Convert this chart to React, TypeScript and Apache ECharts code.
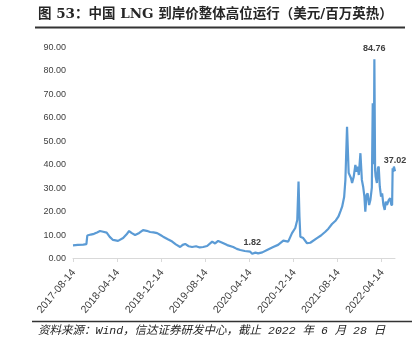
import React, { useEffect, useRef } from "react";
import * as echarts from "echarts";

const titleText = "图 53：中国 LNG 到岸价整体高位运行（美元/百万英热）";
const footerText = "资料来源：Wind，信达证券研发中心，截止 2022 年 6 月 28 日";

const tickLabels = [
  "2017-08-14", "2018-04-14", "2018-12-14", "2019-08-14",
  "2020-04-14", "2020-12-14", "2021-08-14", "2022-04-14",
];
const startDate = "2017-08-14";
const endDate = "2022-06-28";

const dates = [
  "2017-08-14", "2017-09-10", "2017-10-10", "2017-10-27", "2017-11-01", "2017-11-20", "2017-12-08", "2017-12-25",
  "2018-01-10", "2018-01-28", "2018-02-16", "2018-03-05", "2018-03-23", "2018-04-20", "2018-05-18", "2018-06-05",
  "2018-06-20", "2018-07-05", "2018-07-23", "2018-08-15", "2018-09-05", "2018-09-25", "2018-10-14", "2018-11-02",
  "2018-11-22", "2018-12-10", "2018-12-25", "2019-01-20", "2019-02-13", "2019-03-05", "2019-03-29", "2019-04-12",
  "2019-04-26", "2019-05-15", "2019-06-03", "2019-06-25", "2019-07-15", "2019-08-03", "2019-08-25", "2019-09-22",
  "2019-10-08", "2019-10-25", "2019-11-20", "2019-12-14", "2020-01-16", "2020-02-05", "2020-02-24", "2020-03-20",
  "2020-04-19", "2020-04-30", "2020-05-18", "2020-06-02", "2020-06-25", "2020-07-21", "2020-08-24", "2020-09-20",
  "2020-10-19", "2020-11-15", "2020-12-06", "2020-12-24", "2021-01-04", "2021-01-11", "2021-01-16", "2021-01-21",
  "2021-02-06", "2021-02-27", "2021-03-17", "2021-04-23", "2021-05-15", "2021-06-08", "2021-06-25", "2021-07-15",
  "2021-08-05", "2021-08-19", "2021-08-31", "2021-09-09", "2021-09-20", "2021-09-27", "2021-10-06", "2021-10-15",
  "2021-10-28", "2021-11-03", "2021-11-12", "2021-11-21", "2021-11-28", "2021-12-04", "2021-12-10", "2021-12-19",
  "2021-12-27", "2022-01-03", "2022-01-10", "2022-01-15", "2022-01-22", "2022-01-28", "2022-02-05", "2022-02-12",
  "2022-02-20", "2022-02-25", "2022-03-03", "2022-03-06", "2022-03-10", "2022-03-13", "2022-03-20", "2022-03-25",
  "2022-03-30", "2022-04-05", "2022-04-12", "2022-04-18", "2022-04-25", "2022-05-02", "2022-05-08", "2022-05-15",
  "2022-05-24", "2022-06-01", "2022-06-08", "2022-06-12", "2022-06-15", "2022-06-18", "2022-06-22", "2022-06-28",
];
const prices = [
  5.4, 5.6, 5.7, 5.9, 9.6, 10.0, 10.3, 10.9,
  11.5, 11.2, 10.8, 9.0, 7.7, 7.3, 8.5, 10.0,
  11.5, 10.6, 9.8, 10.7, 11.9, 11.6, 11.1, 10.9,
  10.6, 9.8, 9.1, 8.0, 7.0, 5.8, 4.7, 5.6,
  6.0, 5.0, 4.7, 5.0, 4.5, 4.7, 5.1, 7.0,
  6.2, 7.3, 6.4, 5.5, 4.7, 3.9, 3.4, 3.0,
  2.7, 1.82, 2.3, 2.0, 2.4, 3.4, 4.7, 5.6,
  7.4, 7.0, 10.6, 12.8, 16.2, 32.6, 18.0, 9.1,
  8.5, 6.3, 6.5, 8.5, 9.6, 11.2, 12.5, 14.5,
  16.0, 17.6, 20.0, 21.9, 26.0, 33.3, 56.0, 36.3,
  34.0, 32.0, 34.7, 39.7, 36.8, 39.0, 35.4, 44.7,
  33.3, 30.4, 26.2, 19.8, 26.9, 27.6, 22.6, 24.7,
  30.0, 66.0, 40.0, 84.76, 37.5, 34.7, 32.0, 38.3,
  39.0, 30.4, 26.2, 27.6, 22.6, 20.5, 24.0, 22.6,
  24.7, 25.5, 22.6, 22.6, 38.3, 36.8, 39.0, 37.02,
];

const DAY = 86400000;
const toDay = (s: string) => {
  const [y, m, d] = s.split("-").map(Number);
  const [y0, m0, d0] = startDate.split("-").map(Number);
  return Math.round((Date.UTC(y, m - 1, d) - Date.UTC(y0, m0 - 1, d0)) / DAY);
};

export default function App() {
  const ref = useRef<HTMLDivElement>(null);
  useEffect(() => {
    if (!ref.current) return;
    const chart = echarts.init(ref.current, null, { renderer: "svg" });
    const tickDays = tickLabels.map(toDay);
    const maxIdx = prices.indexOf(Math.max(...prices));
    const minIdx = prices.indexOf(Math.min(...prices));
    const lastIdx = prices.length - 1;
    const data = dates.map((d, i) => {
      const item: any = { value: [toDay(d), prices[i]] };
      if (i === maxIdx || i === minIdx || i === lastIdx) {
        item.label = {
          show: true,
          position: "top",
          distance: 7,
          formatter: prices[i].toFixed(2),
          fontSize: 9,
          fontWeight: "bold",
          color: "#404040",
          fontFamily: "Liberation Sans, Arial, sans-serif",
        };
      }
      return item;
    });
    chart.setOption({
      animation: false,
      grid: { left: 73, right: 22, top: 47, bottom: 93 },
      xAxis: {
        type: "value",
        min: 0,
        max: toDay(endDate),
        axisLine: { show: true, lineStyle: { color: "#d9d9d9", width: 1 } },
        axisTick: {
          show: true,
          length: 4,
          lineStyle: { color: "#d9d9d9" },
          customValues: tickDays,
        },
        splitLine: { show: false },
        axisLabel: {
          customValues: tickDays,
          rotate: 50,
          fontSize: 10.5,
          color: "#404040",
          margin: 12,
          fontFamily: "Liberation Sans, Arial, sans-serif",
          formatter: (v: number) => {
            const i = tickDays.indexOf(Math.round(v));
            return i >= 0 ? tickLabels[i] : "";
          },
        },
      },
      yAxis: {
        type: "value",
        min: 0,
        max: 90,
        interval: 10,
        axisLine: { show: false },
        axisTick: { show: false },
        splitLine: { show: false },
        axisLabel: {
          fontSize: 9,
          color: "#404040",
          margin: 7,
          fontFamily: "Liberation Sans, Arial, sans-serif",
          formatter: (v: number) => v.toFixed(2),
        },
      },
      series: [
        {
          type: "line",
          data,
          showSymbol: true,
          symbol: "circle",
          symbolSize: 0,
          itemStyle: { color: "#5b9bd5" },
          lineStyle: { color: "#5b9bd5", width: 2.2 },
          label: { show: false },
        },
      ],
      graphic: [
        {
          type: "text",
          left: 38,
          top: 6,
          style: {
            text: titleText,
            font: "bold 13.5px 'DejaVu Serif', 'Noto Sans CJK SC', serif",
            fill: "#262626",
          },
        },
        {
          type: "line",
          shape: { x1: 35, y1: 27.5, x2: 405, y2: 27.5 },
          style: { stroke: "#333333", lineWidth: 2 },
        },
        {
          type: "line",
          shape: { x1: 32, y1: 321.5, x2: 412, y2: 321.5 },
          style: { stroke: "#333333", lineWidth: 1.5 },
        },
        {
          type: "text",
          left: 38,
          top: 325,
          style: {
            text: footerText,
            font: "italic 11.5px 'Liberation Mono', 'Noto Sans CJK SC', monospace",
            fill: "#262626",
          },
        },
      ],
    });
    return () => chart.dispose();
  }, []);
  return (
    <div
      ref={ref}
      style={{ position: "fixed", left: 0, top: 0, width: 417, height: 351 }}
    />
  );
}
